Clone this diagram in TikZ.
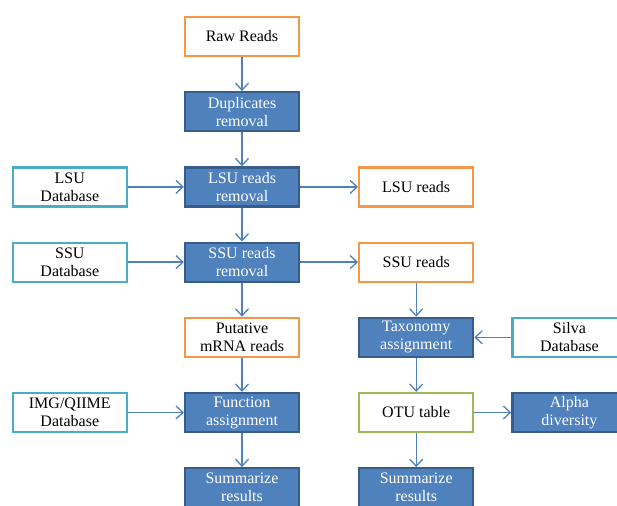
\documentclass[tikz,border=0pt]{standalone}
\usepackage{fontspec}
\setmainfont{Liberation Serif}
\usetikzlibrary{positioning}
\usetikzlibrary{arrows.meta}
\definecolor{stepFill}{HTML}{4F81BD}
\definecolor{stepBorder}{HTML}{385D8A}
\definecolor{readsBorder}{HTML}{F79646}
\definecolor{dbBorder}{HTML}{4BACC6}
\definecolor{tableBorder}{HTML}{9BBB59}
\definecolor{flowColor}{HTML}{4F81BD}

\begin{document}
\begin{tikzpicture}[x=1pt, y=1pt,
    node distance=34pt and 56pt,
    box/.style={minimum width=114pt, minimum height=39pt, inner sep=0, align=center,
      font=\fontsize{16}{18}\selectfont, line width=2.2pt},
    stepbox/.style={box, fill=stepFill, draw=stepBorder, text=white},
    readsbox/.style={box, fill=white, draw=readsBorder},
    dbbox/.style={box, fill=white, draw=dbBorder},
    tablebox/.style={box, fill=white, draw=tableBorder},
    flow/.style={draw=flowColor, line width=1.3pt, -{Straight Barb[length=7pt,width=13pt]}}
  ]
  \useasboundingbox (0,0) rectangle (617,-505);
  \clip (0,0) rectangle (617,-505);

  \node[readsbox] (raw) at (242,-36.5) {Raw Reads};
  \node[stepbox, below=of raw] (dedup) {Duplicates\\removal};
  \node[stepbox, below=of dedup] (lsurm) {LSU reads\\removal};
  \node[stepbox, below=of lsurm] (ssurm) {SSU reads\\removal};
  \node[readsbox, below=of ssurm] (mrna) {Putative\\mRNA reads};
  \node[stepbox, below=of mrna] (func) {Function\\assignment};
  \node[stepbox, below=of func] (sumfunc) {Summarize\\results};

  \node[dbbox, left=of lsurm] (lsudb) {LSU\\Database};
  \node[dbbox, left=of ssurm] (ssudb) {SSU\\Database};
  \node[dbbox, left=of func] (imgdb) {IMG/QIIME\\Database};

  \node[readsbox, right=58pt of lsurm] (lsureads) {LSU reads};
  \node[readsbox, right=58pt of ssurm] (ssureads) {SSU reads};
  \node[stepbox, below=of ssureads] (taxa) {Taxonomy\\assignment};
  \node[tablebox, below=of taxa] (otu) {OTU table};
  \node[stepbox, below=of otu] (sumtaxa) {Summarize\\results};

  \node[dbbox, right=37pt of taxa] (silva) {Silva\\Database};
  \node[stepbox, right=37pt of otu] (alpha) {Alpha\\diversity};

  \foreach \from/\to in {raw/dedup, dedup/lsurm, lsurm/ssurm, ssurm/mrna, mrna/func, func/sumfunc,
      lsudb/lsurm, ssudb/ssurm, imgdb/func, lsurm/lsureads, ssurm/ssureads,
      ssureads/taxa, taxa/otu, otu/sumtaxa, silva/taxa, otu/alpha}
    \draw[flow] (\from) -- (\to);
\end{tikzpicture}
\end{document}
